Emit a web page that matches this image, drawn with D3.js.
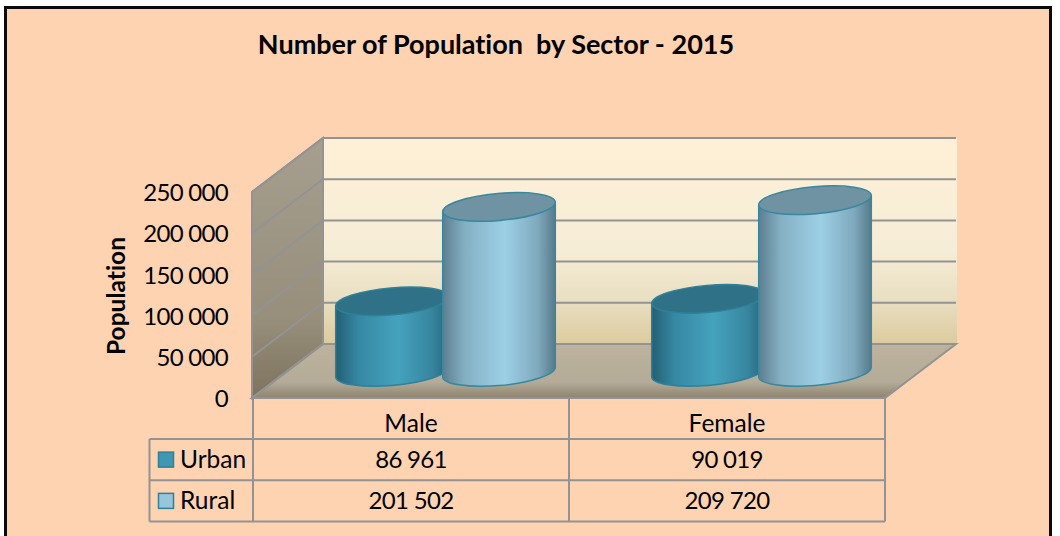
<!DOCTYPE html>
<html>
<head>
<meta charset="utf-8">
<script src="https://d3js.org/d3.v7.min.js"></script>
<style>
  html, body { margin: 0; padding: 0; background: #fff; }
  svg { display: block; }
  text { font-family: Lato, "Open Sans", sans-serif; fill: #000; font-variant-ligatures: none; }
</style>
</head>
<body>
<div id="chart"></div>
<script>
var categories = ['Male', 'Female'];
var seriesNames = ['Urban', 'Rural'];
var urbanValues = [86961, 90019];
var ruralValues = [201502, 209720];
var yTicks = [0, 50000, 100000, 150000, 200000, 250000];

var width = 1060, height = 536;
var gridColor = '#939393';
var labelSize = '24.5px';
var numberSize = '24px';
var numberSpacing = '-0.7px';

var svg = d3.select('#chart').append('svg')
  .attr('width', width)
  .attr('height', height);

var defs = svg.append('defs');

function addGradient(id, vertical, stops) {
  var g = defs.append('linearGradient')
    .attr('id', id)
    .attr('x1', 0).attr('y1', 0)
    .attr('x2', vertical ? 0 : 1).attr('y2', vertical ? 1 : 0);
  stops.forEach(function(s) {
    g.append('stop').attr('offset', s[0]).attr('stop-color', s[1]);
  });
}

addGradient('wallGrad', true, [[0, '#fef0d6'], [0.55, '#f6edd6'], [0.78, '#e9dfc2'], [1, '#dccb9f']]);
addGradient('sideGrad', true, [[0, '#a69f8f'], [0.7, '#978e7b'], [1, '#7d735d']]);
addGradient('floorGrad', true, [[0, '#bdb29e'], [0.7, '#b4ac98'], [1, '#8e846e']]);
addGradient('urbanGrad', false, [[0, '#235f74'], [0.2, '#3688a3'], [0.55, '#45a2bd'], [0.85, '#37869f'], [1, '#28667b']]);
addGradient('ruralGrad', false, [[0, '#5c7f90'], [0.2, '#85b0c4'], [0.55, '#9dd0e5'], [0.85, '#7fa8bc'], [1, '#557a8b']]);

// chart area with the black frame, runs off the bottom of the picture
svg.append('rect')
  .attr('x', 5.5).attr('y', 7.5)
  .attr('width', 1045).attr('height', 540)
  .attr('fill', '#fdd3b2')
  .attr('stroke', '#0a0a0a')
  .attr('stroke-width', 3);

svg.append('text')
  .attr('x', 496).attr('y', 54)
  .attr('text-anchor', 'middle')
  .style('font-size', '27px')
  .style('font-weight', 'bold')
  .style('white-space', 'pre')
  .text('Number of Population  by Sector - 2015');

// scales, front plane of the 3d box
var y = d3.scaleLinear().domain([0, 250000]).range([398, 192]);
var x = d3.scaleBand().domain(categories).range([253, 885]);
var xSeries = d3.scaleBand().domain(seriesNames).range([-107, 107]);

var depthX = 71, depthY = -54;
var values = { Urban: urbanValues, Rural: ruralValues };

var x0 = x.range()[0] - 1, x1 = x.range()[1];
var y0 = y(0), yTop = y(250000);

function poly(pts) {
  return pts.map(function(p) { return p.join(','); }).join(' ');
}

// back wall
svg.append('rect')
  .attr('x', x0 + depthX).attr('y', yTop + depthY)
  .attr('width', x1 - x0 + 1).attr('height', y0 - yTop)
  .attr('fill', 'url(#wallGrad)');

// side wall
svg.append('polygon')
  .attr('points', poly([[x0, y0], [x0, yTop], [x0 + depthX, yTop + depthY], [x0 + depthX, y0 + depthY]]))
  .attr('fill', 'url(#sideGrad)')
  .attr('stroke', gridColor)
  .attr('stroke-width', 2);

// floor
svg.append('polygon')
  .attr('points', poly([[x0, y0], [x1, y0], [x1 + depthX, y0 + depthY], [x0 + depthX, y0 + depthY]]))
  .attr('fill', 'url(#floorGrad)')
  .attr('stroke', gridColor)
  .attr('stroke-width', 2);

// gridlines, over the side wall and back wall
var grid = svg.append('g').attr('fill', 'none').attr('stroke', gridColor).attr('stroke-width', 2);
yTicks.forEach(function(t) {
  grid.append('polyline')
    .attr('points', poly([[x0, y(t)], [x0 + depthX, y(t) + depthY], [x1 + depthX, y(t) + depthY]]));
});

// y axis labels
var locale = d3.formatLocale({ decimal: '.', thousands: ' ', grouping: [3], currency: ['', ''] });
var fmt = locale.format(',d');

var yAxis = svg.append('g')
  .attr('transform', 'translate(232,1)')
  .call(d3.axisLeft(y).tickValues(yTicks).tickFormat(fmt).tickSize(0).tickPadding(4));
yAxis.select('.domain').remove();
yAxis.selectAll('text')
  .style('font-family', 'Lato, "Open Sans", sans-serif')
  .style('font-size', numberSize)
  .style('letter-spacing', numberSpacing);

svg.append('text')
  .attr('transform', 'translate(125,296) rotate(-90)')
  .attr('text-anchor', 'middle')
  .style('font-size', '24.5px')
  .style('font-weight', 'bold')
  .text('Population');

// cylinders
var rx = 56.5, ry = 13.5, tilt = 5;
var rad = tilt * Math.PI / 180;
var ex = Math.sqrt(rx * rx * Math.cos(rad) * Math.cos(rad) + ry * ry * Math.sin(rad) * Math.sin(rad));
var ey = (rx * rx - ry * ry) * Math.sin(rad) * Math.cos(rad) / ex;
var barDepthX = 34.5, barDepthY = -26;

function drawCylinder(cx, base, top, side, topFill, edge) {
  var d = 'M' + (cx - ex) + ',' + (base + ey) +
    'L' + (cx - ex) + ',' + (top + ey) +
    'L' + (cx + ex) + ',' + (top - ey) +
    'L' + (cx + ex) + ',' + (base - ey) +
    'A' + rx + ',' + ry + ',' + (-tilt) + ',0,1,' + (cx - ex) + ',' + (base + ey) + 'Z';
  svg.append('path')
    .attr('d', d)
    .attr('fill', side)
    .attr('stroke', edge)
    .attr('stroke-width', 1.5);
  svg.append('ellipse')
    .attr('rx', rx).attr('ry', ry)
    .attr('transform', 'translate(' + cx + ',' + top + ') rotate(' + (-tilt) + ')')
    .attr('fill', topFill)
    .attr('stroke', edge)
    .attr('stroke-width', 1.5);
}

categories.forEach(function(cat, i) {
  seriesNames.forEach(function(name) {
    var cx = x(cat) + x.bandwidth() / 2 + xSeries(name) + xSeries.bandwidth() / 2 + barDepthX;
    var base = y(0) + barDepthY;
    var top = y(values[name][i]) + barDepthY + 1;
    if (name === 'Urban') {
      drawCylinder(cx, base, top, 'url(#urbanGrad)', '#2f7287', '#2f8199');
    } else {
      drawCylinder(cx, base, top, 'url(#ruralGrad)', '#6f93a3', '#36889f');
    }
  });
});

// data table under the plot
var rowY = d3.scaleBand().domain(seriesNames).range([439, 521.5]);
var tableLeft = 149.5;
var table = svg.append('g').attr('stroke', gridColor).attr('stroke-width', 2).attr('fill', 'none');

x.domain().concat(['end']).forEach(function(c) {
  var xx = c === 'end' ? x1 : x(c);
  table.append('line').attr('x1', xx).attr('x2', xx).attr('y1', y0).attr('y2', rowY.range()[1]);
});
table.append('line').attr('x1', tableLeft).attr('x2', tableLeft).attr('y1', rowY.range()[0]).attr('y2', rowY.range()[1]);
seriesNames.forEach(function(name) {
  table.append('line').attr('x1', tableLeft).attr('x2', x1).attr('y1', rowY(name)).attr('y2', rowY(name));
});
table.append('line').attr('x1', tableLeft).attr('x2', x1).attr('y1', rowY.range()[1]).attr('y2', rowY.range()[1]);

categories.forEach(function(cat, i) {
  var cx = x(cat) + x.bandwidth() / 2;
  svg.append('text')
    .attr('x', cx).attr('y', 431.5)
    .attr('text-anchor', 'middle')
    .style('font-size', labelSize)
    .text(cat);
  seriesNames.forEach(function(name) {
    svg.append('text')
      .attr('x', cx).attr('y', rowY(name) + rowY.bandwidth() / 2 + 8)
      .attr('text-anchor', 'middle')
      .style('font-size', numberSize)
      .style('letter-spacing', numberSpacing)
      .text(fmt(values[name][i]));
  });
});

var swatchFill = { Urban: '#3f97b3', Rural: '#97c6dc' };
seriesNames.forEach(function(name) {
  var cy = rowY(name) + rowY.bandwidth() / 2;
  svg.append('rect')
    .attr('x', 158.5).attr('y', cy - 7.5)
    .attr('width', 15).attr('height', 15)
    .attr('fill', swatchFill[name])
    .attr('stroke', '#2f8199')
    .attr('stroke-width', 1.5);
  svg.append('text')
    .attr('x', 180).attr('y', cy + 8)
    .style('font-size', labelSize)
    .text(name);
});
</script>
</body>
</html>
